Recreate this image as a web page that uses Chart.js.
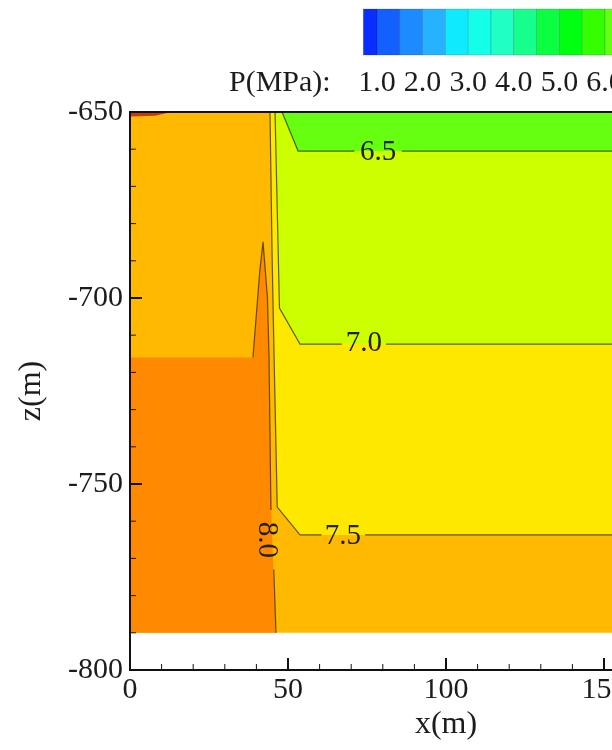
<!DOCTYPE html>
<html>
<head>
<meta charset="utf-8">
<script src="https://cdn.jsdelivr.net/npm/chart.js@4.4.1/dist/chart.umd.min.js"></script>
<style>
  html, body { margin: 0; padding: 0; background: #fff; overflow: hidden; }
  #wrap { position: relative; width: 612px; height: 750px; overflow: hidden; }
  #pressure { position: absolute; left: 0; top: 0; }
</style>
</head>
<body>
<div id="wrap"><canvas id="pressure" width="790" height="750"></canvas></div>
<script>
// pressure zones as [x(m), z(m)] outlines, painted back to front
var zone75 = [[0, -650], [200, -650], [200, -790], [0, -790], [0, -650]];
var zone70 = [[44.3, -650], [200, -650], [200, -763.7], [53.8, -763.7], [46.6, -756.2], [45.6, -716], [45.0, -690], [44.3, -650]];
var zone65 = [[45.9, -650], [200, -650], [200, -712.4], [53.8, -712.4], [47.3, -702.7], [45.9, -650]];
var zone60 = [[48.1, -650], [200, -650], [200, -660.5], [53.2, -660.5], [48.1, -650]];
var zone80 = [[0, -716], [38.9, -716], [41.1, -692.5], [42.1, -684.9], [43.5, -700], [44.0, -716], [44.8, -760], [46.2, -790], [0, -790], [0, -716]];
var zone85 = [[0, -650], [13, -650], [8, -651], [0, -651.2], [0, -650]];
var zoneColors = ['#ffb900', '#ffe800', '#ccff00', '#66ff12', '#ff8900', '#c03a12'];

// contour lines, null leaves room for the label
var line65 = [[48.1, -650], [53.2, -660.5], [71, -660.5], null, [86, -660.5], [200, -660.5]];
var line70 = [[45.9, -650], [47.3, -702.7], [53.8, -712.4], [67, -712.4], null, [81, -712.4], [200, -712.4]];
var line75 = [[44.3, -650], [45.0, -690], [45.6, -716], [46.6, -756.2], [53.8, -763.7], [60.6, -763.7], null, [74.4, -763.7], [200, -763.7]];
var line80 = [[38.9, -716], [41.1, -692.5], [42.1, -684.9], [43.5, -700], [44.0, -716], [44.6, -757], null, [45.5, -773], [46.2, -790]];

var contourText = ['6.5', '7.0', '7.5', '8.0'];
var contourX = [78.5, 74, 67.4, 43.7];
var contourZ = [-660.5, -712, -763.7, -765];
var contourAngle = [0, 0, 0, 90];

// colour legend: level bounds (MPa), one colour per band, labelled levels
var legendLevels = [0.7, 1.0, 1.5, 2.0, 2.5, 3.0, 3.5, 4.0, 4.5, 5.0, 5.5, 6.0, 6.5, 7.0, 7.5, 8.0, 8.5];
var legendColors = ['#0a2eff', '#1460ff', '#1e8aff', '#26b2ff', '#10eaff', '#14ffe8', '#20ffc4', '#16ff8c', '#0aff40', '#00ff10', '#33ff00', '#66ff12', '#ccff00', '#ffe800', '#ffb900', '#ff8900'];
var legendText = ['1.0', '2.0', '3.0', '4.0', '5.0', '6.0', '7.0', '8.0'];
var legendTextValues = [1, 2, 3, 4, 5, 6, 7, 8];

var serif = "'Liberation Serif', 'Times New Roman', serif";
var ink = '#1c1c1c';

function pts(a) {
  return a.map(function (p) { return p ? { x: p[0], y: p[1] } : { x: null, y: null }; });
}

var datasets = [];
[zone75, zone70, zone65, zone60, zone80, zone85].forEach(function (z, i) {
  datasets.push({
    data: pts(z), fill: 'shape', backgroundColor: zoneColors[i],
    borderColor: 'rgba(0,0,0,0)', borderWidth: 1, pointRadius: 0, order: 20 - i
  });
});
[line65, line70, line75, line80].forEach(function (l, i) {
  datasets.push({
    data: pts(l), fill: false, borderColor: 'rgba(50,45,0,0.75)', borderWidth: 1.2,
    pointRadius: 0, spanGaps: false, order: 5 - i
  });
});

// inward ticks, top frame line and contour labels
var frame = {
  id: 'frame',
  afterDatasetsDraw: function (chart) {
    var c = chart.ctx, a = chart.chartArea, xs = chart.scales.x, ys = chart.scales.y, v, p, len;
    c.save();
    c.strokeStyle = '#111';
    c.lineWidth = 2;
    c.beginPath();
    c.moveTo(a.left - 1, a.top); c.lineTo(a.right, a.top);
    c.moveTo(a.right, a.top); c.lineTo(a.right, a.bottom);
    c.stroke();
    for (v = 0; v <= 200; v += 10) {
      p = xs.getPixelForValue(v);
      len = v % 50 === 0 ? 12 : 6;
      c.lineWidth = v % 50 === 0 ? 2 : 1;
      c.beginPath(); c.moveTo(p, a.bottom); c.lineTo(p, a.bottom - len); c.stroke();
    }
    for (v = -800; v <= -650; v += 10) {
      p = ys.getPixelForValue(v);
      len = v % 50 === 0 ? 12 : 6;
      c.lineWidth = v % 50 === 0 ? 2 : 1;
      c.beginPath(); c.moveTo(a.left, p); c.lineTo(a.left + len, p); c.stroke();
    }
    c.fillStyle = '#22200a';
    c.font = '29px ' + serif;
    c.textAlign = 'center';
    c.textBaseline = 'middle';
    contourText.forEach(function (t, i) {
      c.save();
      c.translate(xs.getPixelForValue(contourX[i]), ys.getPixelForValue(contourZ[i]));
      c.rotate(contourAngle[i] * Math.PI / 180);
      c.fillText(t, 0, 1);
      c.restore();
    });
    c.restore();
  }
};

// horizontal colour bar above the plot
var colorBar = {
  id: 'colorBar',
  afterDraw: function (chart) {
    var c = chart.ctx;
    var px = function (v) { return 377 + (v - 1) * 45.6; };
    c.save();
    legendColors.forEach(function (col, i) {
      var x0 = px(legendLevels[i]), x1 = px(legendLevels[i + 1]);
      c.fillStyle = col;
      c.fillRect(x0, 9, x1 - x0, 46);
      c.strokeStyle = 'rgba(0,0,60,0.25)';
      c.lineWidth = 0.6;
      c.strokeRect(x0, 9, x1 - x0, 46);
    });
    c.fillStyle = ink;
    c.font = '30px ' + serif;
    c.textBaseline = 'middle';
    c.textAlign = 'left';
    c.fillText('P(MPa):', 229, 83);
    c.textAlign = 'center';
    legendText.forEach(function (t, i) {
      c.fillText(t, px(legendTextValues[i]), 83);
    });
    c.restore();
  }
};

new Chart(document.getElementById('pressure'), {
  type: 'line',
  data: { datasets: datasets },
  options: {
    responsive: false,
    animation: false,
    events: [],
    layout: { padding: { top: 112, left: 0, right: 28, bottom: 0 } },
    plugins: { legend: { display: false }, tooltip: { enabled: false } },
    elements: { line: { tension: 0 }, point: { radius: 0 } },
    scales: {
      x: {
        type: 'linear', min: 0, max: 200,
        grid: { display: false, drawTicks: false },
        border: { display: true, color: '#111', width: 2, z: 1 },
        ticks: { stepSize: 50, padding: 2, maxRotation: 0, color: ink, font: { family: serif, size: 30 } },
        title: { display: true, text: 'x(m)', color: ink, font: { family: serif, size: 32 }, padding: { top: 0, bottom: 6 } },
        afterFit: function (s) { s.height = 80; }
      },
      y: {
        type: 'linear', min: -800, max: -650,
        grid: { display: false, drawTicks: false },
        border: { display: true, color: '#111', width: 2, z: 1 },
        ticks: { stepSize: 50, padding: 7, color: ink, font: { family: serif, size: 30 } },
        title: { display: true, text: 'z(m)', color: ink, font: { family: serif, size: 32 }, padding: { top: 12, bottom: 0 } },
        afterFit: function (s) { s.width = 130; }
      }
    }
  },
  plugins: [frame, colorBar]
});
</script>
</body>
</html>
